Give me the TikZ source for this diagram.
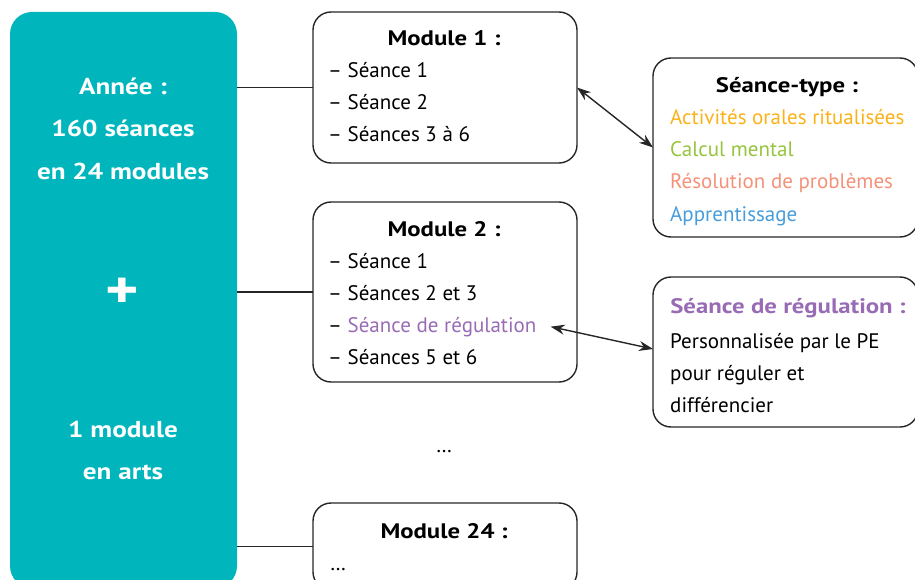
\documentclass[tikz,border=0pt]{standalone}
\usepackage{fontspec}
\setmainfont{PT Sans}[BoldFeatures={FakeStretch=1.18}]
\usetikzlibrary{positioning,arrows.meta}

\definecolor{anneebg}{RGB}{0,182,188}
\definecolor{oralcol}{RGB}{251,178,24}
\definecolor{calccol}{RGB}{150,196,62}
\definecolor{resolcol}{RGB}{244,145,120}
\definecolor{apprcol}{RGB}{72,157,216}
\definecolor{regulcol}{RGB}{152,108,180}

\tikzset{
	box/.style={draw=black!85, line width=1.4pt, rounded corners=18pt, inner sep=0pt, outer sep=0pt, anchor=north west},
	line/.style={anchor=base west, inner sep=0pt},
	ttl/.style={anchor=base, inner sep=0pt, font=\bfseries},
	big/.style={anchor=base, inner sep=0pt, white, font=\fontsize{23}{26}\selectfont\bfseries},
	link/.style={draw=black!85, line width=1.4pt},
	dbl/.style={link, {Stealth[length=14pt,width=10pt]}-{Stealth[length=14pt,width=10pt]}}
}

\begin{document}
\fontsize{21}{24}\selectfont
\begin{tikzpicture}[x=1pt,y=-1pt]
	\useasboundingbox (0,0) rectangle (915,580);
	
	% left column
	\node[fill=anneebg, rounded corners=22pt, minimum width=227pt, minimum height=576pt, anchor=north west, inner sep=0pt, outer sep=0pt] (annee) at (10,12) {};
	\node[big] (a1) at (123,95) {Année :};
	\node[big] (a2) at (123,137) {160 séances};
	\node[big] (a3) at (123,179) {en 24 modules};
	\node[white, inner sep=0pt, font=\fontsize{54}{54}\selectfont\bfseries] (plus) at (122.5,293) {+};
	\node[big] (a4) at (123,437) {1 module};
	\node[big] (a5) at (123,479) {en arts};
	
	% modules
	\node[box, minimum width=264pt, minimum height=151pt] (mod1) at (313,12) {};
	\node[box, minimum width=264pt, minimum height=180pt] (mod2) at (313,202) {};
	\node[box, minimum width=264pt, minimum height=87pt] (mod24) at (313,503) {};
	
	\node[ttl] (mod1t) at (444,46) {Module 1 :};
	\node[line] (m1a) at (328,78) {– Séance 1};
	\node[line] (m1b) at (328,110) {– Séance 2};
	\node[line] (m1c) at (328,142) {– Séances 3 à 6};
	
	\node[ttl] (mod2t) at (444,236) {Module 2 :};
	\node[line] (m2a) at (328,268) {– Séance 1};
	\node[line] (m2b) at (328,300) {– Séances 2 et 3};
	\node[line] (m2c) at (328,332) {– \textcolor{regulcol}{Séance de régulation}};
	\node[line] (m2d) at (328,364) {– Séances 5 et 6};
	
	\node[anchor=base, inner sep=0pt] (more) at (444,452) {…};
	
	\node[ttl] (mod24t) at (444,538) {Module 24 :};
	\node[line] (m24a) at (330,570) {…};
	
	% right column
	\node[box, minimum width=265pt, minimum height=179pt] (typebox) at (653,58) {};
	\node[ttl] (typet) at (787,93) {Séance-type :};
	\node[line, oralcol] (t1) at (670,125) {Activités orales ritualisées};
	\node[line, calccol] (t2) at (670,157) {Calcul mental};
	\node[line, resolcol] (t3) at (670,189) {Résolution de problèmes};
	\node[line, apprcol] (t4) at (670,221) {Apprentissage};
	
	\node[box, minimum width=265pt, minimum height=150pt] (regbox) at (653,277) {};
	\node[ttl, regulcol] (regt) at (788,313) {Séance de régulation :};
	\node[line] (r1) at (670,348) {Personnalisée par le PE};
	\node[line] (r2) at (670,380) {pour réguler et};
	\node[line] (r3) at (670,412) {différencier};
	
	% connectors
	\draw[link] (annee.east |- mod1.west) -- (mod1.west);
	\draw[link] (annee.east |- mod2.west) -- (mod2.west);
	\draw[link] (annee.east |- mod24.west) -- (mod24.west);
	\draw[dbl] (mod1.east) -- (typebox.west);
	\draw[dbl] ([xshift=14pt]m2c.east) -- ([yshift=3pt]regbox.west);
\end{tikzpicture}
\end{document}
